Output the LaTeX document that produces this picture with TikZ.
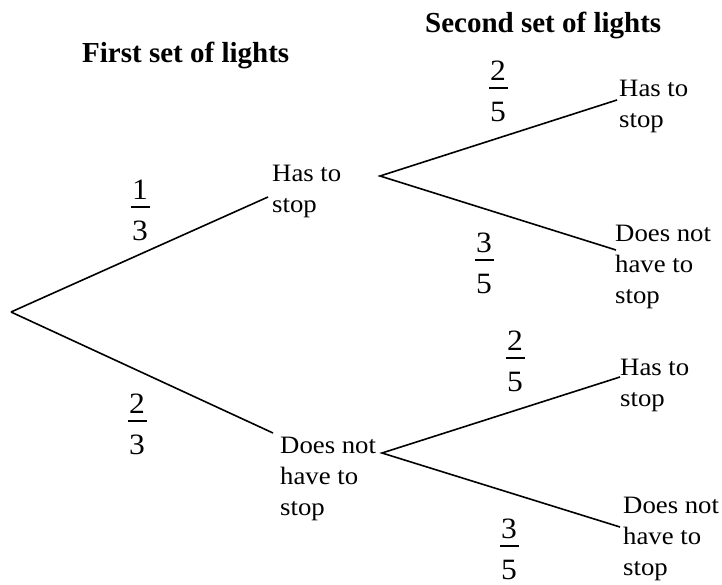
\documentclass[tikz,border=0pt]{standalone}
\usepackage{fontspec}
\setmainfont{Liberation Serif}
\newfontfamily\lblfont[FakeStretch=1.07]{Liberation Serif}
\tikzset{
  branch/.style={line width=1.6pt},
  % anchored at the baseline of the last line
  outcome/.style={inner sep=0pt, anchor=base west, align=left,
    font=\lblfont\fontsize{25}{31}\selectfont},
  heading/.style={inner sep=0pt, anchor=base west,
    font=\bfseries\fontsize{29}{35}\selectfont},
  digit/.style={inner sep=0pt, font=\lblfont\fontsize{29.5}{35}\selectfont},
  fracbar/.style={fill=black, inner sep=0pt, minimum width=19pt,
    minimum height=1.8pt},
}
% probability written as a fraction: bar with numerator and denominator
\newcommand\probfrac[4]{%
  \node[fracbar,
    label={[digit,label distance=6pt]above:#3},
    label={[digit,label distance=13pt]below:#4}] (#1) at #2 {};}
\begin{document}
\begin{tikzpicture}[x=1pt,y=-1pt]
\useasboundingbox (0,0) rectangle (722,585);

% headings
\node[heading] (h1) at (82,63) {First set of lights};
\node[heading] (h2) at (425,33) {Second set of lights};

% branch points
\coordinate (root) at (11,312);
\coordinate (s1) at (268,197);
\coordinate (n1) at (273,433);
\coordinate (s1o) at (380,176);
\coordinate (n1o) at (382,453);
\coordinate (ss) at (617,100);
\coordinate (sn) at (616,250);
\coordinate (ns) at (620,377);
\coordinate (nn) at (620,527);

% outcomes
\node[outcome] (t1) at (272,213) {Has to\\stop};
\node[outcome] (t2) at (280,515) {Does not\\have to\\stop};
\node[outcome] (t3) at (619,128) {Has to\\stop};
\node[outcome] (t4) at (615,303) {Does not\\have to\\stop};
\node[outcome] (t5) at (620,406) {Has to\\stop};
\node[outcome] (t6) at (623,575) {Does not\\have to\\stop};

% branches
\draw[branch] (root) -- (s1);
\draw[branch] (root) -- (n1);
\draw[branch] (ss) -- (s1o) -- (sn);
\draw[branch] (ns) -- (n1o) -- (nn);

% probabilities
\probfrac{p1}{(140,207)}{1}{3}
\probfrac{p2}{(137,421)}{2}{3}
\probfrac{p3}{(498,88)}{2}{5}
\probfrac{p4}{(484,260)}{3}{5}
\probfrac{p5}{(515,358)}{2}{5}
\probfrac{p6}{(509,546)}{3}{5}
\end{tikzpicture}
\end{document}
